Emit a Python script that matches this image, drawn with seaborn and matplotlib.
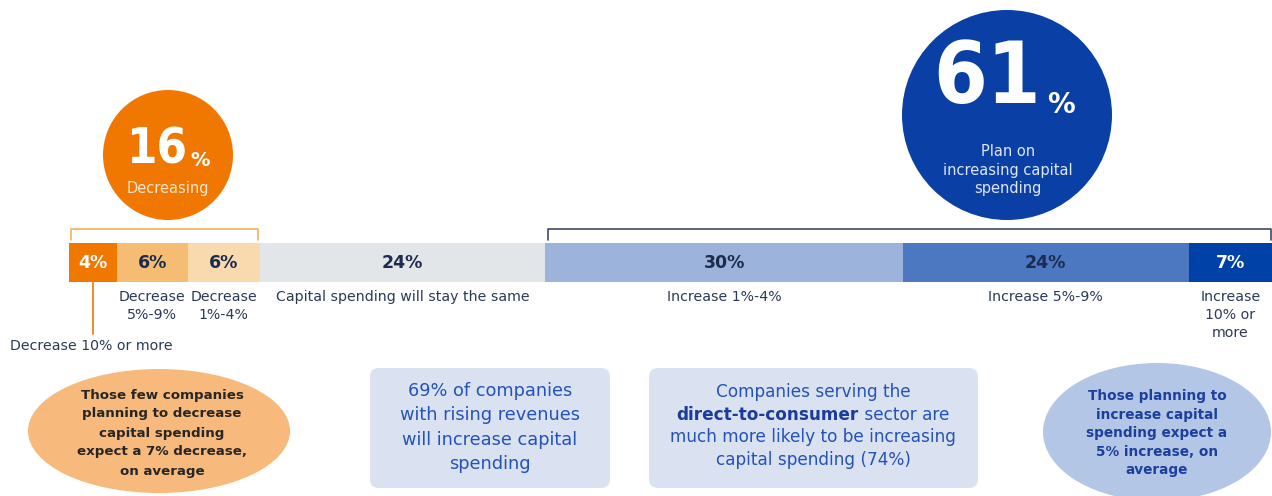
import matplotlib
matplotlib.use("Agg")
import matplotlib.pyplot as plt
import matplotlib.transforms as mtransforms
from matplotlib.patches import Circle, Ellipse, FancyBboxPatch
import seaborn as sns

# ---- data -------------------------------------------------------------
segments = ["Decrease 10% or more", "Decrease 5%-9%", "Decrease 1%-4%",
            "Capital spending will stay the same", "Increase 1%-4%",
            "Increase 5%-9%", "Increase 10% or more"]
shares = [4, 6, 6, 24, 30, 24, 7]
segment_labels = ["Decrease 10% or more", "Decrease\n5%-9%", "Decrease\n1%-4%",
                  "Capital spending will stay the same", "Increase 1%-4%",
                  "Increase 5%-9%", "Increase\n10% or\nmore"]
decreasing_total = 16
increasing_total = 61
decreasing_note = ["Those few companies", "planning to decrease", "capital spending",
                   "expect a 7% decrease,", "on average"]
revenue_note = ["69% of companies", "with rising revenues", "will increase capital",
                "spending"]
dtc_note = ["Companies serving the", ("direct-to-consumer", " sector are"),
            "much more likely to be increasing", "capital spending (74%)"]
increasing_note = ["Those planning to", "increase capital", "spending expect a",
                   "5% increase, on", "average"]

# ---- style ------------------------------------------------------------
seg_colors = ["#f07800", "#f5bd74", "#f9d9ae", "#e3e6e9", "#9cb4db", "#4b78c0", "#0041a8"]
value_colors = ["white", "#1b2c4e", "#1b2c4e", "#1b2c4e", "#1b2c4e", "#1b2c4e", "white"]
ORANGE = "#f07800"
NAVY_TEXT = "#2b3a56"
BLUE_TEXT = "#2452b8"

sns.set_theme(style="white")
plt.rcParams["font.family"] = ["DejaVu Sans"]

W, H = 1272, 496
fig = plt.figure(figsize=(W / 100, H / 100), dpi=100)
fig.patch.set_facecolor("white")

# canvas axes in pixel units for annotations
ax = fig.add_axes([0, 0, 1, 1])
ax.set_xlim(0, W)
ax.set_ylim(H, 0)
ax.axis("off")

# stacked bar axes
bar_left, bar_right, bar_top, bar_bottom = 69, 1272, 243, 282
bx = fig.add_axes([bar_left / W, 1 - bar_bottom / H,
                   (bar_right - bar_left) / W, (bar_bottom - bar_top) / H])
total = sum(shares)
starts = [sum(shares[:i]) for i in range(len(shares))]
for seg, val, start, col in zip(segments, shares, starts, seg_colors):
    sns.barplot(x=[val], y=[0], orient="h", left=[start], color=col,
                saturation=1, width=1, linewidth=0, errorbar=None, ax=bx)
bx.set_xlim(0, total)
bx.set_ylim(0.5, -0.5)
bx.axis("off")

for val, start, tcol in zip(shares, starts, value_colors):
    bx.text(start + val / 2, 0.02, f"{val}%", ha="center", va="center",
            fontsize=12.5, fontweight="bold", color=tcol)

# labels under the bar: x from the bar scale, y in pixels
blend = mtransforms.blended_transform_factory(bx.transData, ax.transData)
for i, (lab, val, start) in enumerate(zip(segment_labels, shares, starts)):
    cx = start + val / 2
    if i == 0:
        ax.plot([cx, cx], [bar_bottom, 334], transform=blend, color=ORANGE, lw=1.2)
        ax.text(10, 346, lab, ha="left", va="center", fontsize=10.2, color=NAVY_TEXT)
    else:
        ax.text(cx, 290, lab, transform=blend, ha="center", va="top",
                fontsize=10.2, color=NAVY_TEXT, linespacing=1.35)

# brackets over the decreasing and increasing groups
n_dec = 3
dec_end = sum(shares[:n_dec])
inc_start = sum(shares[:4])
ax.plot([0.15, 0.15, dec_end - 0.1, dec_end - 0.1], [240, 229, 229, 240],
        transform=blend, color="#f5b25a", lw=1.2)
ax.plot([inc_start + 0.2, inc_start + 0.2, total - 0.1, total - 0.1], [240, 229, 229, 240],
        transform=blend, color="#3c4a62", lw=1.2)

# headline circles
ax.add_patch(Circle((168, 155), 65, color=ORANGE, lw=0))
ax.text(157, 149, f"{decreasing_total}", ha="center", va="center", fontsize=35,
        fontweight="bold", fontstretch="condensed", color="white")
ax.text(200, 160, "%", ha="center", va="center", fontsize=14, fontweight="bold",
        color="white")
ax.text(168, 188, "Decreasing", ha="center", va="center", fontsize=10.5, color="#fde6d2")

ax.add_patch(Circle((1007, 115), 105, color="#0a40a6", lw=0))
ax.text(987, 80, f"{increasing_total}", ha="center", va="center", fontsize=62,
        fontweight="bold", fontstretch="condensed", color="white")
ax.text(1061, 105, "%", ha="center", va="center", fontsize=20, fontweight="bold",
        color="white")
for txt, y in zip(["Plan on", "increasing capital", "spending"], [151, 170, 189]):
    ax.text(1008, y, txt, ha="center", va="center", fontsize=10.5, color="#dfe6f5")

# bottom notes
ax.add_patch(Ellipse((159, 431), 262, 124, color="#f7b97c", lw=0))
for i, txt in enumerate(decreasing_note):
    ax.text(162, 395 + 19 * i, txt, ha="center", va="center", fontsize=9.6,
            fontweight="bold", color="#262626")

ax.add_patch(FancyBboxPatch((370, 368), 240, 120, boxstyle="round,pad=0,rounding_size=9",
                            facecolor="#dae2f1", edgecolor="none"))
for i, txt in enumerate(revenue_note):
    ax.text(490, 391 + 24.3 * i, txt, ha="center", va="center", fontsize=12.8,
            color=BLUE_TEXT)

ax.add_patch(FancyBboxPatch((649, 368), 329, 120, boxstyle="round,pad=0,rounding_size=9",
                            facecolor="#dae2f1", edgecolor="none"))
fig.canvas.draw()
renderer = fig.canvas.get_renderer()
for i, txt in enumerate(dtc_note):
    y = 392 + 22.7 * i
    if isinstance(txt, tuple):
        bold_t = ax.text(0, y, txt[0], ha="left", va="center", fontsize=12.2,
                         fontweight="bold", color="#1b3c9a")
        reg_t = ax.text(0, y, txt[1], ha="left", va="center", fontsize=12.2,
                        color=BLUE_TEXT)
        wb = bold_t.get_window_extent(renderer).width
        wr = reg_t.get_window_extent(renderer).width
        x0 = 813 - (wb + wr) / 2
        bold_t.set_x(x0)
        reg_t.set_x(x0 + wb)
    else:
        ax.text(813, y, txt, ha="center", va="center", fontsize=12.2, color=BLUE_TEXT)

ax.add_patch(Ellipse((1157, 432), 228, 138, color="#b4c6e5", lw=0))
for i, txt in enumerate(increasing_note):
    ax.text(1157, 396 + 18.6 * i, txt, ha="center", va="center", fontsize=9.8,
            fontweight="bold", color="#1c3f9e")

fig.savefig("out.png", dpi=100, facecolor="white")
